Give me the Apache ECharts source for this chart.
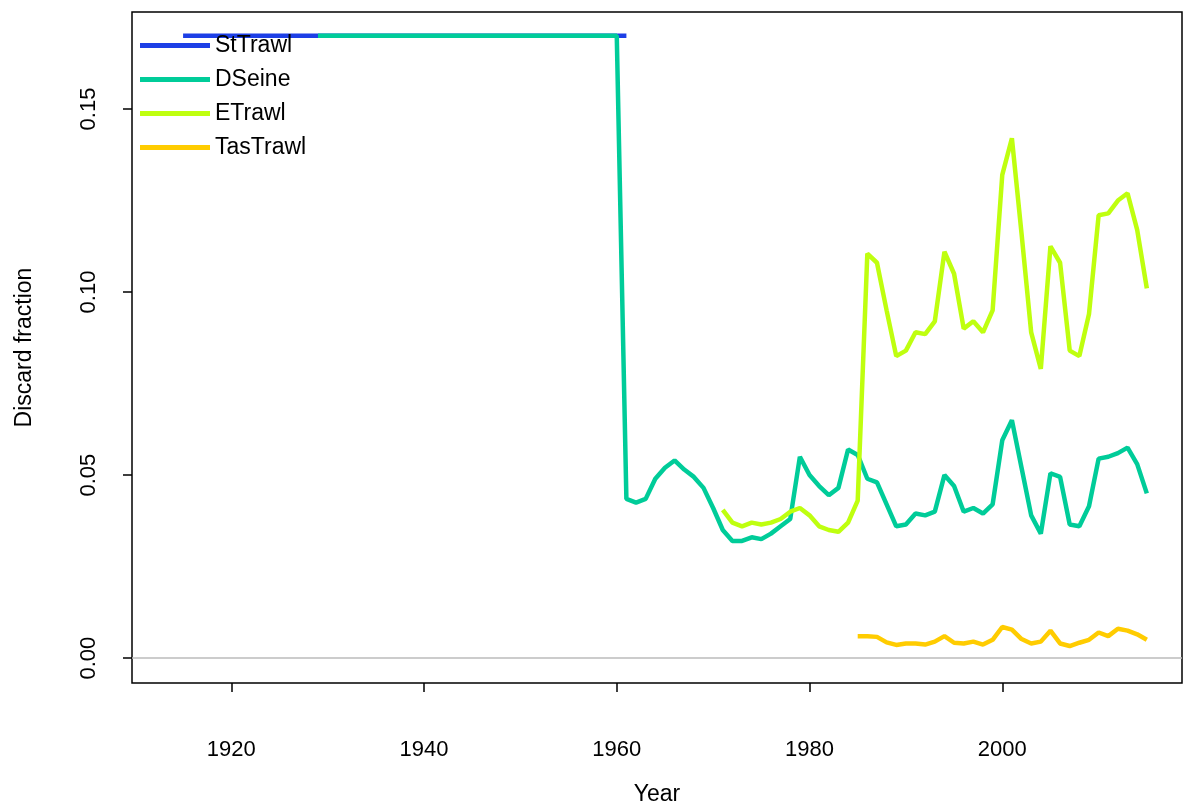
<!DOCTYPE html>
<html><head><meta charset="utf-8">
<script src="https://cdn.jsdelivr.net/npm/echarts@6/dist/echarts.min.js"></script>
<style>html,body{margin:0;padding:0;background:#fff}#c{width:1183px;height:805px}</style>
</head><body><div id="c"></div>
<script>
// series data: [year, discard fraction]
const stTrawlYears = [1915, 1961];
const stTrawlVals = [0.17, 0.17];

const dSeineYears = [1929,1960,1961,1962,1963,1964,1965,1966,1967,1968,1969,1970,1971,1972,1973,1974,1975,1976,1977,1978,1979,1980,1981,1982,1983,1984,1985,1986,1987,1988,1989,1990,1991,1992,1993,1994,1995,1996,1997,1998,1999,2000,2001,2002,2003,2004,2005,2006,2007,2008,2009,2010,2011,2012,2013,2014,2015];
const dSeineVals = [0.17,0.17,0.0435,0.0425,0.0435,0.049,0.052,0.054,0.0515,0.0495,0.0465,0.041,0.035,0.032,0.032,0.033,0.0325,0.034,0.036,0.038,0.055,0.050,0.047,0.0445,0.0465,0.057,0.0555,0.049,0.048,0.042,0.036,0.0365,0.0395,0.039,0.040,0.050,0.047,0.040,0.041,0.0395,0.042,0.0595,0.065,0.052,0.039,0.034,0.0505,0.0495,0.0365,0.036,0.0415,0.0545,0.055,0.056,0.0575,0.053,0.045];

const eTrawlYears = [1971,1972,1973,1974,1975,1976,1977,1978,1979,1980,1981,1982,1983,1984,1985,1986,1987,1988,1989,1990,1991,1992,1993,1994,1995,1996,1997,1998,1999,2000,2001,2002,2003,2004,2005,2006,2007,2008,2009,2010,2011,2012,2013,2014,2015];
const eTrawlVals = [0.0405,0.037,0.036,0.037,0.0365,0.037,0.038,0.040,0.041,0.039,0.036,0.035,0.0345,0.037,0.043,0.1105,0.108,0.095,0.0825,0.084,0.089,0.0885,0.092,0.111,0.105,0.090,0.092,0.089,0.095,0.132,0.142,0.116,0.089,0.079,0.1125,0.108,0.084,0.0825,0.094,0.121,0.1215,0.125,0.127,0.117,0.101];

const tasTrawlYears = [1985,1986,1987,1988,1989,1990,1991,1992,1993,1994,1995,1996,1997,1998,1999,2000,2001,2002,2003,2004,2005,2006,2007,2008,2009,2010,2011,2012,2013,2014,2015];
const tasTrawlVals = [0.006,0.006,0.0058,0.0043,0.0036,0.004,0.004,0.0037,0.0045,0.006,0.0042,0.004,0.0045,0.0037,0.005,0.0085,0.0078,0.0052,0.004,0.0045,0.0075,0.004,0.0033,0.0042,0.005,0.007,0.006,0.008,0.0075,0.0065,0.005];

const xTicks = [1920, 1940, 1960, 1980, 2000];
const yTicks = [0, 0.05, 0.10, 0.15];

const zip = (a, b) => a.map((x, i) => [x, b[i]]);
const mk = (name, years, vals, color) => ({
  name, type: 'line', data: zip(years, vals), showSymbol: false, symbol: 'none',
  lineStyle: { color, width: 4.5 }, itemStyle: { color }, animation: false
});

const chart = echarts.init(document.getElementById('c'));
chart.setOption({
  animation: false,
  textStyle: { fontFamily: 'Liberation Sans, Arial, sans-serif' },
  grid: { left: 132, right: 1, top: 12, bottom: 122, containLabel: false, outerBoundsMode: 'none',
    show: true, borderColor: '#000', borderWidth: 1.5 },
  legend: {
    left: 135, top: 29, orient: 'vertical', itemWidth: 70, itemHeight: 5, itemGap: 11,
    textStyle: { fontSize: 23, color: '#000' }, icon: 'rect',
    data: ['StTrawl', 'DSeine', 'ETrawl', 'TasTrawl']
  },
  xAxis: {
    type: 'value', min: 1909.7, max: 2018.65,
    name: 'Year', nameLocation: 'middle', nameGap: 100, nameTextStyle: { fontSize: 23, color: '#000' },
    splitLine: { show: false },
    axisLine: { show: false, onZero: false },
    axisTick: { show: true, length: 9, customValues: xTicks, lineStyle: { color: '#000', width: 1.5 } },
    axisLabel: { customValues: xTicks, fontSize: 22, color: '#000', margin: 56, formatter: v => String(v) }
  },
  yAxis: {
    type: 'value', min: -0.0068, max: 0.1765,
    name: 'Discard fraction', nameLocation: 'middle', nameGap: 96, nameTextStyle: { fontSize: 23, color: '#000' },
    splitLine: { show: false },
    axisLine: { show: false, onZero: false },
    axisTick: { show: true, length: 9, customValues: yTicks, lineStyle: { color: '#000', width: 1.5 } },
    axisLabel: { customValues: yTicks, fontSize: 22, color: '#000', rotate: 90, margin: 32, formatter: v => v.toFixed(2) }
  },
  series: [
    Object.assign(mk('StTrawl', stTrawlYears, stTrawlVals, '#1D3FE6'), {
      markLine: { silent: true, symbol: 'none', label: { show: false },
        lineStyle: { color: '#bbb', width: 1.5, type: 'solid' }, data: [{ yAxis: 0 }] }
    }),
    mk('DSeine', dSeineYears, dSeineVals, '#00CC99'),
    mk('ETrawl', eTrawlYears, eTrawlVals, '#BFFF0F'),
    mk('TasTrawl', tasTrawlYears, tasTrawlVals, '#FFCC00')
  ]
});
</script></body></html>
